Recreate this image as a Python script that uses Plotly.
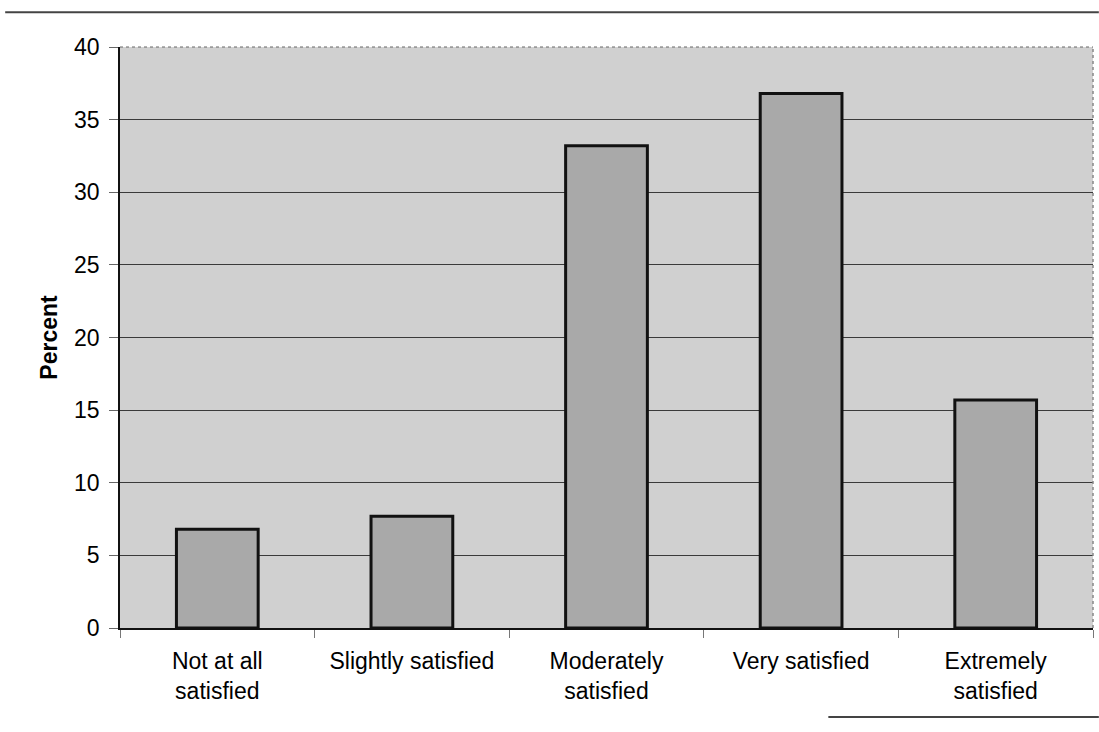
import plotly.graph_objects as go

categories = ["Not at all<br>satisfied", "Slightly satisfied", "Moderately<br>satisfied",
              "Very satisfied", "Extremely<br>satisfied"]
percent = [6.8, 7.7, 33.2, 36.8, 15.7]
y_ticks = [0, 5, 10, 15, 20, 25, 30, 35, 40]

font_family = "Liberation Sans, Arial, sans-serif"

fig = go.Figure()
fig.add_trace(go.Bar(
    x=categories, y=percent,
    marker=dict(color="#a9a9a9", line=dict(color="#111111", width=3)),
    width=0.42,
))

fig.update_layout(
    width=1099, height=732,
    margin=dict(l=120, r=6, t=47, b=104),
    paper_bgcolor="white",
    plot_bgcolor="#d0d0d0",
    showlegend=False,
    font=dict(family=font_family, color="black"),
    xaxis=dict(
        type="category",
        showline=True, linecolor="#111111", linewidth=1.5,
        ticks="outside", tickson="boundaries", ticklen=8, tickcolor="#777777",
        tickfont=dict(size=23, family=font_family),
        ticklabelstandoff=12,
        showgrid=False,
        mirror=False,
    ),
    yaxis=dict(
        range=[0, 40],
        tickvals=y_ticks,
        showline=True, linecolor="#111111", linewidth=1.5,
        ticks="outside", ticklen=9, tickcolor="#666666",
        tickfont=dict(size=23, family=font_family),
        ticklabelstandoff=5,
        showgrid=True, gridcolor="#3a3a3a", gridwidth=1,
        zeroline=False,
        title=dict(text="<b>Percent</b>", font=dict(size=23, family=font_family), standoff=10),
    ),
    shapes=[
        dict(type="line", xref="paper", yref="paper", x0=1, x1=1, y0=0, y1=1,
             line=dict(color="#888888", width=1.5, dash="dot")),
        dict(type="line", xref="paper", yref="paper", x0=0, x1=1, y0=1, y1=1,
             line=dict(color="#666666", width=1, dash="dot")),
        dict(type="line", xref="paper", yref="paper", x0=-0.118, x1=1.006, y0=1.060, y1=1.060,
             line=dict(color="#444444", width=2)),
        dict(type="line", xref="paper", yref="paper", x0=0.728, x1=1.006, y0=-0.153, y1=-0.153,
             line=dict(color="#444444", width=2)),
    ],
)

fig.write_html("out.html", config={"displayModeBar": False},
               post_script="document.body.style.margin='0';document.body.style.overflow='hidden';")
